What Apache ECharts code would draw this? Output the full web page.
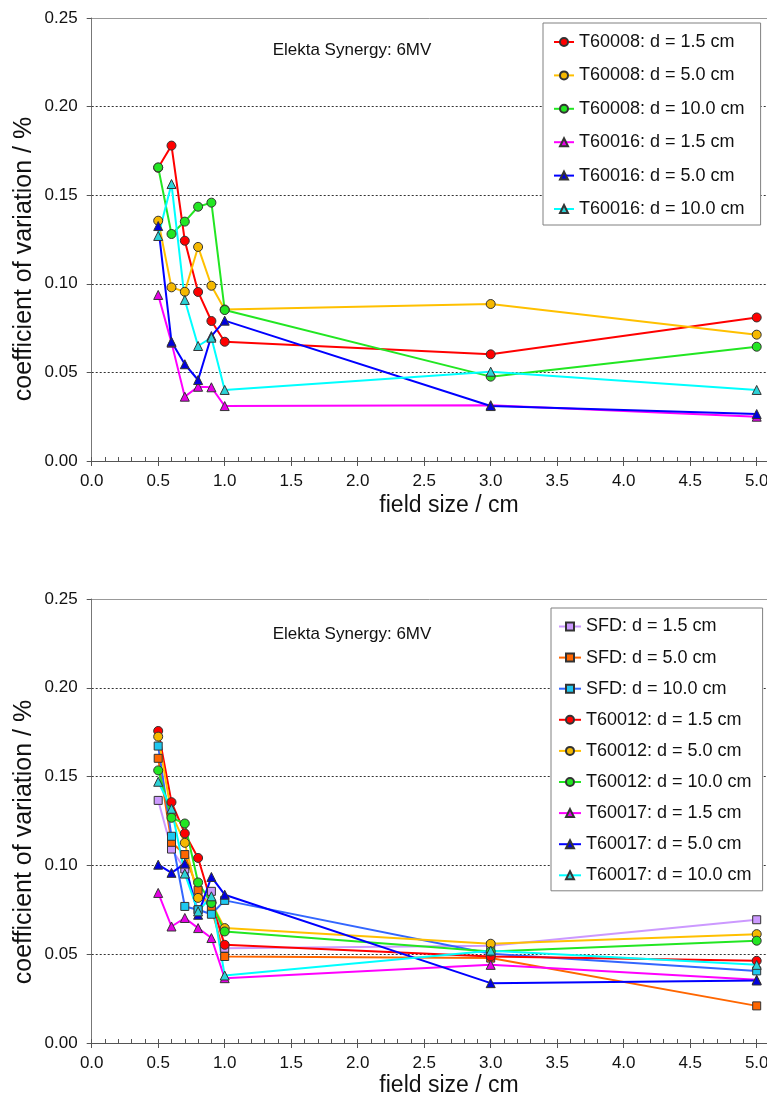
<!DOCTYPE html>
<html>
<head>
<meta charset="utf-8">
<script src="https://cdn.jsdelivr.net/npm/echarts@6/dist/echarts.min.js"></script>
<style>
html,body{margin:0;padding:0;background:#fff;}
#chart{width:767px;height:1099px;}
</style>
</head>
<body>
<div id="chart"></div>
<script>
// ---- data ----
const fieldSize = [0.5, 0.6, 0.7, 0.8, 0.9, 1.0, 3.0, 5.0];
const yTicks = [0, 0.05, 0.10, 0.15, 0.20, 0.25];
const xTicks = [0, 0.5, 1.0, 1.5, 2.0, 2.5, 3.0, 3.5, 4.0, 4.5, 5.0];
const chartTitle = 'Elekta Synergy: 6MV';
const xName = 'field size / cm';
const yName = 'coefficient of variation / %';

// top chart
const t60008_d15  = [0.1655, 0.1780, 0.1243, 0.0954, 0.0790, 0.0673, 0.0602, 0.0810];
const t60008_d50  = [0.1356, 0.0980, 0.0955, 0.1208, 0.0989, 0.0855, 0.0886, 0.0713];
const t60008_d100 = [0.1657, 0.1281, 0.1351, 0.1435, 0.1458, 0.0852, 0.0476, 0.0645];
const t60016_d15  = [0.0937, 0.0668, 0.0363, 0.0419, 0.0416, 0.0310, 0.0315, 0.0250];
const t60016_d50  = [0.1326, 0.0673, 0.0546, 0.0457, 0.0705, 0.0792, 0.0310, 0.0265];
const t60016_d100 = [0.1270, 0.1563, 0.0909, 0.0649, 0.0696, 0.0401, 0.0504, 0.0401];

// bottom chart
const sfd_d15     = [0.1366, 0.1092, 0.0980, 0.0750, 0.0854, 0.0534, 0.0547, 0.0694];
const sfd_d50     = [0.1603, 0.1130, 0.1061, 0.0860, 0.0760, 0.0487, 0.0478, 0.0209];
const sfd_d100    = [0.1672, 0.1164, 0.0769, 0.0750, 0.0725, 0.0803, 0.0502, 0.0406];
const t60012_d15  = [0.1757, 0.1356, 0.1180, 0.1042, 0.0790, 0.0553, 0.0487, 0.0463];
const t60012_d50  = [0.1725, 0.1290, 0.1127, 0.0817, 0.0790, 0.0647, 0.0559, 0.0613];
const t60012_d100 = [0.1535, 0.1268, 0.1236, 0.0904, 0.0788, 0.0628, 0.0515, 0.0576];
const t60017_d15  = [0.0845, 0.0656, 0.0704, 0.0647, 0.0591, 0.0365, 0.0440, 0.0356];
const t60017_d50  = [0.1004, 0.0958, 0.1010, 0.0722, 0.0935, 0.0835, 0.0337, 0.0352];
const t60017_d100 = [0.1471, 0.1319, 0.0954, 0.0741, 0.0826, 0.0380, 0.0520, 0.0440];

const topNames = ['T60008: d = 1.5 cm','T60008: d = 5.0 cm','T60008: d = 10.0 cm',
                  'T60016: d = 1.5 cm','T60016: d = 5.0 cm','T60016: d = 10.0 cm'];
const botNames = ['SFD: d = 1.5 cm','SFD: d = 5.0 cm','SFD: d = 10.0 cm',
                  'T60012: d = 1.5 cm','T60012: d = 5.0 cm','T60012: d = 10.0 cm',
                  'T60017: d = 1.5 cm','T60017: d = 5.0 cm','T60017: d = 10.0 cm'];

// ---- styles ----
const FONT = 'Liberation Sans, Arial, sans-serif';
const S = {
  red:     {line:'#FF0000', fill:'#FF0000'},
  gold:    {line:'#FFC000', fill:'#F5B800'},
  green:   {line:'#22E622', fill:'#22E622'},
  magenta: {line:'#FF00FF', fill:'#E600E6'},
  blue:    {line:'#0000FF', fill:'#0000DD'},
  cyan:    {line:'#00FFFF', fill:'#2CD3D8'},
  lav:     {line:'#CC99FF', fill:'#CC99FF'},
  orange:  {line:'#FF6600', fill:'#FF6600'},
  sky:     {line:'#3366FF', fill:'#1EC8F0'}
};
const symSize = {circle: 9, triangle: 9, rect: 8};

function mk(name, values, st, sym, gi) {
  return {
    name: name, type: 'line', xAxisIndex: gi * 3, yAxisIndex: gi,
    data: fieldSize.map((x, i) => [x, values[i]]),
    symbol: sym, symbolSize: symSize[sym], showSymbol: true,
    lineStyle: {color: st.line, width: 2},
    itemStyle: {color: st.fill, borderColor: '#333', borderWidth: 1},
    emphasis: {disabled: true}, silent: true, animation: false
  };
}

const series = [
  mk(topNames[0], t60008_d15, S.red, 'circle', 0),
  mk(topNames[1], t60008_d50, S.gold, 'circle', 0),
  mk(topNames[2], t60008_d100, S.green, 'circle', 0),
  mk(topNames[3], t60016_d15, S.magenta, 'triangle', 0),
  mk(topNames[4], t60016_d50, S.blue, 'triangle', 0),
  mk(topNames[5], t60016_d100, S.cyan, 'triangle', 0),
  mk(botNames[0], sfd_d15, S.lav, 'rect', 1),
  mk(botNames[1], sfd_d50, S.orange, 'rect', 1),
  mk(botNames[2], sfd_d100, S.sky, 'rect', 1),
  mk(botNames[3], t60012_d15, S.red, 'circle', 1),
  mk(botNames[4], t60012_d50, S.gold, 'circle', 1),
  mk(botNames[5], t60012_d100, S.green, 'circle', 1),
  mk(botNames[6], t60017_d15, S.magenta, 'triangle', 1),
  mk(botNames[7], t60017_d50, S.blue, 'triangle', 1),
  mk(botNames[8], t60017_d100, S.cyan, 'triangle', 1)
];

const PX_PER_UNIT = 133;
const GRID_LEFT = 91.7;
const XMAX = (767 - GRID_LEFT + 2) / PX_PER_UNIT;
const gridTops = [18, 599];
const gridH = [443, 444];

function xAxes(gi) {
  return [
    {
      type: 'value', gridIndex: gi, position: 'bottom', min: 0, max: XMAX, interval: 0.5,
      axisLine: {show: true, onZero: false, lineStyle: {color: '#555', width: 1}},
      axisTick: {show: true, inside: false, length: 5, lineStyle: {color: '#555'}},
      axisLabel: {show: true, margin: 12, fontSize: 17, color: '#111', fontFamily: FONT,
        showMaxLabel: false,
        formatter: v => (xTicks.some(t => Math.abs(t - v) < 1e-6) ? v.toFixed(1) : '')},
      splitLine: {show: false}
    },
    {
      type: 'value', gridIndex: gi, position: 'bottom', min: 0, max: XMAX, interval: 0.1,
      axisLine: {show: false, onZero: false},
      axisTick: {show: true, inside: true, length: 4, lineStyle: {color: '#555'}},
      axisLabel: {show: false}, splitLine: {show: false}
    },
    {
      type: 'value', gridIndex: gi, position: 'top', min: 0, max: XMAX,
      axisLine: {show: true, onZero: false, lineStyle: {color: '#999', width: 1}},
      axisTick: {show: false}, axisLabel: {show: false}, splitLine: {show: false}
    }
  ];
}
function yAxis(gi) {
  return {
    type: 'value', gridIndex: gi, min: yTicks[0], max: yTicks[yTicks.length - 1], interval: 0.05,
    axisLine: {show: true, lineStyle: {color: '#777', width: 1}},
    axisTick: {show: true, inside: false, length: 5, lineStyle: {color: '#555'}},
    axisLabel: {margin: 14, fontSize: 17, color: '#111', fontFamily: FONT, formatter: v => v.toFixed(2)},
    splitLine: {show: true, lineStyle: {color: ['rgba(0,0,0,0)', '#333', '#333', '#333', '#333', 'rgba(0,0,0,0)'],
      type: [2, 2], width: 1}}
  };
}

function legend(names, left, top, gap, iw, pad) {
  return {
    data: names, orient: 'vertical', left: left, top: top,
    itemWidth: iw, itemHeight: 10, itemGap: gap,
    padding: pad, backgroundColor: '#fff', borderColor: '#808080', borderWidth: 1, borderRadius: 0,
    textStyle: {fontSize: 18, color: '#111', fontFamily: FONT},
    selectedMode: false
  };
}

function textEl(txt, x, y, size, rot) {
  return {
    type: 'text', x: x, y: y, rotation: rot || 0, silent: true,
    style: {text: txt, fontSize: size, fontFamily: FONT, fill: '#111', align: 'center', verticalAlign: 'middle'}
  };
}

const option = {
  animation: false,
  backgroundColor: '#fff',
  textStyle: {fontFamily: FONT},
  grid: gridTops.map((t, i) => ({
    left: GRID_LEFT, top: t, width: PX_PER_UNIT * XMAX, height: gridH[i],
    show: false, containLabel: false, outerBoundsMode: 'none'
  })),
  xAxis: [].concat(xAxes(0), xAxes(1)),
  yAxis: [yAxis(0), yAxis(1)],
  legend: [
    legend(topNames, 543, 23, 15.4, 20, [10, 16, 7, 10]),
    legend(botNames, 551, 608, 13.1, 22, [9.5, 11, 6.5, 7])
  ],
  graphic: [
    textEl(chartTitle, 352, 50, 17),
    textEl(chartTitle, 352, 634, 17),
    textEl(xName, 449, 506, 23),
    textEl(xName, 449, 1086, 23),
    textEl(yName, 24, 259, 25, Math.PI / 2),
    textEl(yName, 24, 842, 25, Math.PI / 2)
  ],
  series: series
};

const chart = echarts.init(document.getElementById('chart'), null, {renderer: 'canvas'});
chart.setOption(option);
</script>
</body>
</html>
